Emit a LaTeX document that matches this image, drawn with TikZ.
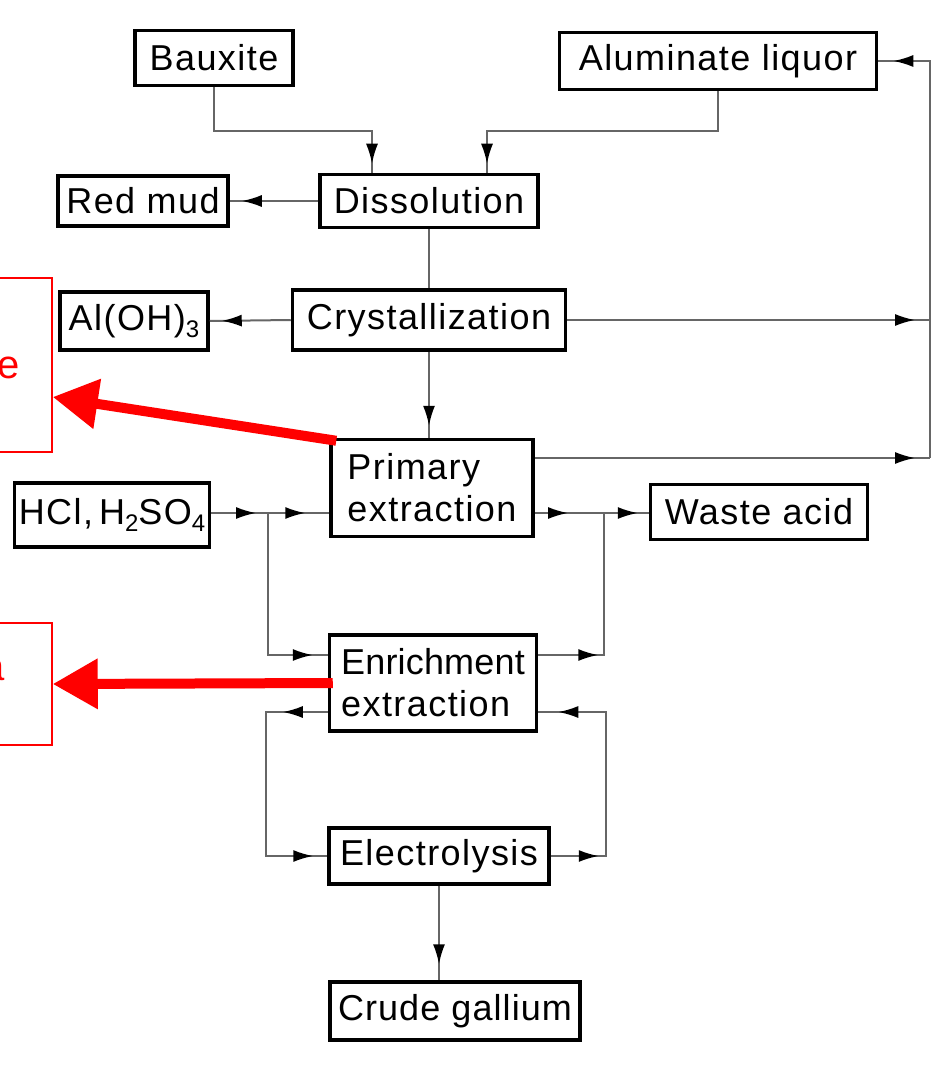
\documentclass[tikz,border=0pt]{standalone}
\usepackage{fontspec}
\setmainfont{Liberation Sans}[LetterSpace=4]
\newfontfamily\redfont{Liberation Sans}
\usetikzlibrary{arrows.meta,decorations.markings,calc}
\newcommand\mysub[1]{\raisebox{-0.4ex}{\fontsize{24}{24}\selectfont #1}}
\tikzset{
  box/.style={draw=black, line width=3.5pt, fill=white, inner sep=0pt,
    font=\fontsize{36}{42}\selectfont},
  bx/.style 2 args={box, minimum width=#1, minimum height=#2},
  conn/.style={draw=black!60, line width=2pt},
  arrat/.style={postaction={decorate, decoration={markings,
    mark=at position #1 with {\arrow[black]{Latex[length=20pt,width=12pt]}}}}},
  arrtwo/.style 2 args={postaction={decorate, decoration={markings,
    mark=at position #1 with {\arrow[black]{Latex[length=20pt,width=12pt]}},
    mark=at position #2 with {\arrow[black]{Latex[length=20pt,width=12pt]}}}}},
  redbox/.style={draw=red, line width=1.5pt},
  redtext/.style={text=red, font=\redfont\fontsize{40}{46}\selectfont, inner sep=0pt},
  redarrow/.style={draw=red, line width=10pt, -{Triangle[length=45pt,width=48pt]}}
}
\begin{document}
\begin{tikzpicture}[x=1pt,y=-1pt]
\useasboundingbox (0,0) rectangle (932,1067);
\clip (0,0) rectangle (932,1067);

% process boxes
\node[bx={158pt}{55pt}] (baux) at (214,58) {Bauxite};
\node[bx={317pt}{57pt}] (alum) at (718,61) {Aluminate liquor};
\node[bx={170pt}{50pt}] (red) at (143,201) {Red mud};
\node[bx={218pt}{53pt}] (diss) at (429,201) {Dissolution};
\node[bx={148pt}{58pt}] (aloh) at (134,321) {Al(OH)\mysub{3}};
\node[bx={273pt}{60pt}] (crys) at (429,320) {Crystallization};
\node[bx={202pt}{97pt}, align=left] (prim) at (432,488) {Primary\\extraction};
\node[bx={195pt}{64pt}] (hcl) at (112,515) {HCl,\,H\mysub{2}SO\mysub{4}};
\node[bx={217pt}{55pt}] (waste) at (759,512) {Waste acid};
\node[bx={207pt}{96pt}, align=left] (enr) at (433,683) {{\addfontfeature{LetterSpace=0.5}Enrichment}\\extraction};
\node[bx={220pt}{56pt}] (elec) at (439,856) {Electrolysis};
\node[bx={250pt}{58pt}] (crude) at (455,1011) {{\addfontfeature{LetterSpace=3}Crude gallium}};

% helper coordinates
\coordinate (top) at (930,61);
\coordinate (jL) at (268,513);
\coordinate (jR) at (604,513);

% connectors
\draw[conn, arrat=-9pt] (baux.south) -- ++(0,44) -| ([xshift=-57pt]diss.north);
\draw[conn, arrat=-9pt] (alum.south) -- ++(0,40) -| ([xshift=58pt]diss.north);
\draw[conn, arrat=-12pt] (diss.west) -- (red.east);
\draw[conn] (diss.south) -- (crys.north);
\draw[conn, arrat=-12pt] (crys.west) -- (aloh.east);
\draw[conn, arrat=-12pt] (crys.south) -- (crys.south |- prim.north);
\draw[conn, arrat=-15pt] (crys.east) -- (crys.east -| top);
\draw[conn, arrat=-15pt] ([yshift=30pt]prim.east) -- ([yshift=30pt]prim.east -| top);
\draw[conn, arrat=-15pt] ([yshift=30pt]prim.east -| top) -- (top) -- (alum.east);

\draw[conn, arrat=-12pt] (hcl.east |- jL) -- (jL);
\draw[conn, arrat=-24pt] (jL) -- (jL -| prim.west);
\draw[conn, arrat=-15pt] (jL) |- ([yshift=28pt]enr.west);
\draw[conn, arrat=-36pt] (prim.east |- jR) -- (jR);
\draw[conn, arrat=-11pt] (jR) -- (jR -| waste.west);
\draw[conn, arrat=60pt] ([yshift=28pt]enr.east) -| (jR);

\draw[conn, arrtwo={45pt}{-14pt}] ([yshift=-29pt]enr.west) -- ++(-62,0) |- (elec.west);
\draw[conn, arrtwo={48pt}{-20pt}] (elec.east) -- ++(55,0) |- ([yshift=-29pt]enr.east);
\draw[conn, arrat=-16pt] (elec.south) -- (elec.south |- crude.north);

% red annotations
\node[redbox, minimum width=104pt, minimum height=174pt] (rA) at (0,365) {};
\node[redbox, minimum width=104pt, minimum height=122pt] (rB) at (0,684) {};
\node[redtext, anchor=base] (tA) at (9,378) {e};
\node[redtext, anchor=base] (tB) at (-6,680) {a};
\draw[redarrow] ([xshift=7pt,yshift=-3pt]prim.north west) -- ([yshift=-32pt]rA.east);
\draw[redarrow] ([xshift=5pt]enr.west) -- (rB.east);
\end{tikzpicture}
\end{document}
